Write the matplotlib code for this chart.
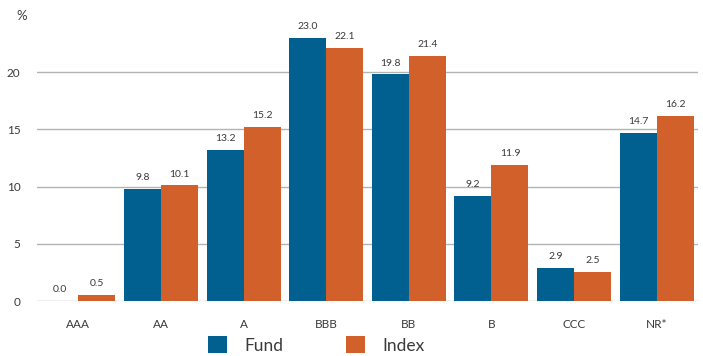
import numpy as np
import matplotlib.pyplot as plt

# Credit quality breakdown, % of portfolio
ratings = ['AAA', 'AA', 'A', 'BBB', 'BB', 'B', 'CCC', 'NR*']
fund = [0.0, 9.8, 13.2, 23.0, 19.8, 9.2, 2.9, 14.7]
index = [0.5, 10.1, 15.2, 22.1, 21.4, 11.9, 2.5, 16.2]
yticks = [0, 5, 10, 15, 20]

fund_color = '#01608F'
index_color = '#D2602A'
text_color = '#3a3a3a'

plt.rcParams['font.family'] = ['Lato', 'DejaVu Sans']

fig = plt.figure(figsize=(7.03, 3.56), dpi=100)
ax = fig.add_axes([37 / 703, 1 - 301 / 356, 661 / 703, 286 / 356])

x = np.arange(len(ratings))
w = 0.448

bars_f = ax.bar(x - w / 2, fund, width=w, color=fund_color, zorder=2, label='Fund')
bars_i = ax.bar(x + w / 2, index, width=w, color=index_color, zorder=2, label='Index')

# value labels above each bar
for bars, vals in [(bars_f, fund), (bars_i, index)]:
    for b, v in zip(bars, vals):
        ax.annotate(f'{v:.1f}', (b.get_x() + b.get_width() / 2, v),
                    xytext=(0, 5), textcoords='offset points',
                    ha='center', va='bottom', fontsize=7.5, color=text_color, zorder=3)

ax.set_xlim(-0.5, len(ratings) - 0.5)
ax.set_ylim(0, 25)
ax.set_yticks(yticks)
ax.set_xticks(x)
ax.set_xticklabels(ratings)
ax.tick_params(axis='both', length=0, labelsize=8.5, labelcolor=text_color)
ax.tick_params(axis='y', pad=12)
ax.tick_params(axis='x', pad=13)
ax.yaxis.grid(True, color='#b3b3b3', linewidth=1)
ax.set_axisbelow(True)
for s in ax.spines.values():
    s.set_visible(False)

fig.text(16 / 703, 1 - 16 / 356, '%', fontsize=9.5, color=text_color, va='center')

leg = fig.legend(handles=[bars_f, bars_i], labels=['Fund', 'Index'],
                 loc='center', bbox_to_anchor=(316 / 703, 1 - 345 / 356),
                 ncol=2, frameon=False, fontsize=12.5, handlelength=1.1,
                 handleheight=1.1, handletextpad=1.0, columnspacing=3.6,
                 labelcolor=text_color)

fig.savefig('out.png', dpi=100)
